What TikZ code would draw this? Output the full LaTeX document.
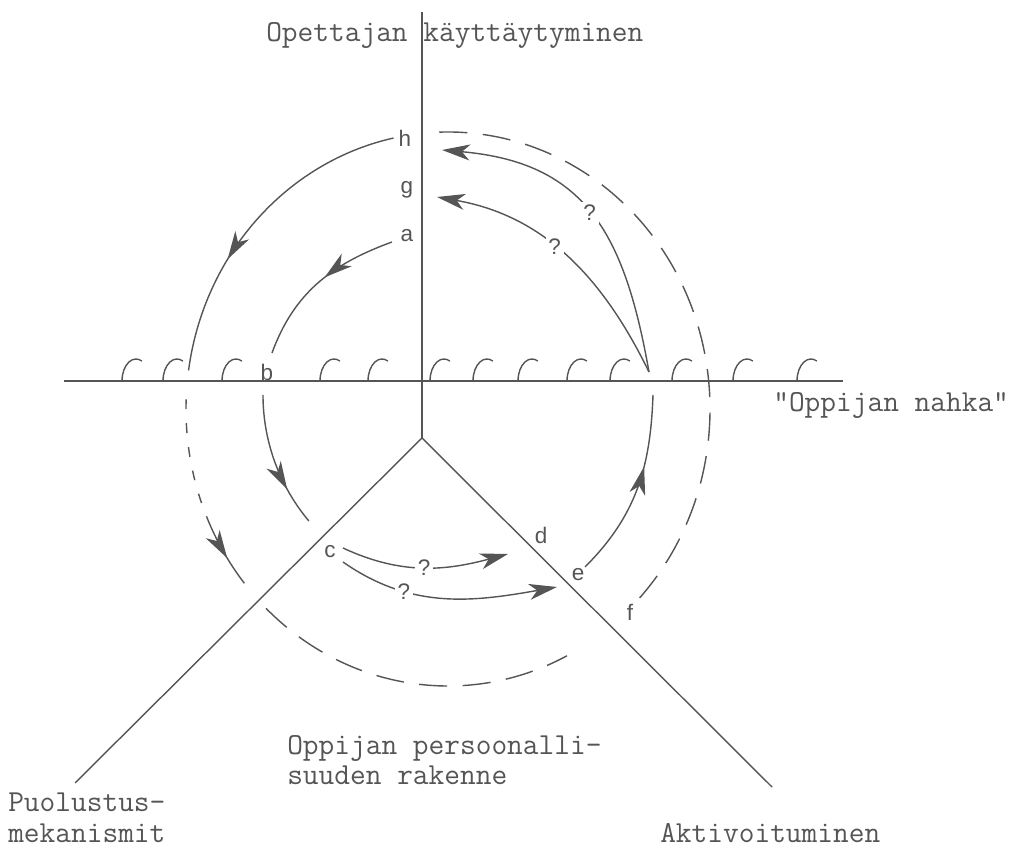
\documentclass[tikz,border=0pt]{standalone}
\usepackage{fontspec}
\setsansfont{Liberation Sans}
\usepackage{xcolor}
\definecolor{inkgray}{RGB}{85,85,85}
\usetikzlibrary{arrows.meta,calc,decorations.markings}

\begin{document}
\begin{tikzpicture}[x=0.25mm,y=0.25mm,
ink/.style={draw=inkgray,line width=1pt},
arrowline/.style={ink,-{Stealth[length=7mm,width=4mm,inset=2mm]}},
midarrow/.style={ink,postaction={decorate},decoration={markings,mark=at position #1 with {\arrow{Stealth[length=7mm,width=4mm,inset=2mm]}}}},
longdash/.style={ink,dash pattern=on 20pt off 11pt},
shortdash/.style={ink,dash pattern=on 7pt off 10pt},
letter/.style={font=\sffamily\fontsize{16}{18}\selectfont,text=inkgray,inner sep=1pt},
query/.style={letter,fill=white,inner sep=2pt},
caption/.style={font=\ttfamily\fontsize{21.7}{21.5}\selectfont,text=inkgray,inner sep=0pt,align=left}]
\useasboundingbox (0,0) rectangle (1013,850);
% axes
\coordinate (O) at (422,412);
\coordinate (top) at (422,838);
\coordinate (skinW) at (64,469);
\coordinate (skinE) at (843,469);
\coordinate (defend) at (75,67);
\coordinate (active) at (772,63);
\draw[ink] (top) -- (O);
\draw[ink] (skinW) -- (skinE);
\draw[ink] (O) -- (defend);
\draw[ink] (O) -- (active);
% skin hooks
\foreach \hx in {122,163,222,320,368,430,473,518,567,610,672,733,797}
  \draw[ink] (\hx,469) arc[start angle=180,end angle=65,x radius=3.5mm,y radius=5.5mm];
% captions
\node[caption,anchor=base west] (teacher) at (266,808) {Opettajan käyttäytyminen};
\node[caption,anchor=base west] (skin) at (773,438) {"Oppijan nahka"};
\node[caption,anchor=north west] (structure) at (287,115) {Oppijan persoonalli-\\suuden rakenne};
\node[caption,anchor=north west] (defence) at (8,57) {Puolustus-\\mekanismit};
\node[caption,anchor=north west] (activation) at (660,27) {Aktivoituminen};
% letters
\node[letter] (h) at (405,712) {h};
\node[letter] (g) at (407,660) {g};
\node[letter] (a) at (407,614) {a};
\node[letter] (b) at (267,478) {b};
\node[letter] (c) at (330,298) {c};
\node[letter] (d) at (541,315) {d};
\node[letter] (e) at (578,275) {e};
\node[letter] (f) at (630,238) {f};
% outer loop
\coordinate (outer) at (448,441);
\coordinate (h1) at ($(outer)+(102:65.5mm and 69.25mm)$);
\coordinate (l1) at ($(outer)+(178:65.5mm and 69.25mm)$);
\coordinate (l2) at ($(outer)+(203:65.5mm and 69.25mm)$);
\coordinate (l3) at ($(outer)+(226:65.5mm and 69.25mm)$);
\coordinate (f1) at ($(outer)+(-43:65.5mm and 69.25mm)$);
\draw[midarrow=0.64] (h1) arc[start angle=102,end angle=172,x radius=65.5mm,y radius=69.25mm];
\draw[shortdash] (l1) arc[start angle=178,end angle=203,x radius=65.5mm,y radius=69.25mm];
\draw[midarrow=0.6] (l2) arc[start angle=203,end angle=219,x radius=65.5mm,y radius=69.25mm];
\draw[longdash] (l3) arc[start angle=226,end angle=297,x radius=65.5mm,y radius=69.25mm];
\draw[longdash] (f1) arc[start angle=-43,end angle=92,x radius=65.5mm,y radius=69.25mm];
% inner loop
\coordinate (inner) at (459,455);
\coordinate (a1) at (392,608);
\coordinate (b1) at (272,497);
\coordinate (b2) at ($(inner)+(180:49mm)$);
\coordinate (c1) at (343,302);
\coordinate (c2) at (343,288);
\coordinate (d1) at (508,296);
\coordinate (e1) at (557,263);
\coordinate (e2) at (585,283);
\coordinate (s1) at (653,455);
\coordinate (s2) at (649,478);
\coordinate (g1) at (437,653);
\coordinate (h2) at (442,700);
\draw[midarrow=0.45] (a1) to[out=200,in=70] (b1);
\draw[midarrow=0.72] (b2) arc[start angle=180,end angle=220,radius=49mm];
\draw[arrowline] (c1) to[out=-25,in=195] node[query,pos=0.5] (q3) {?} (d1);
\draw[arrowline] (c2) to[out=-35,in=190] node[query,pos=0.3] (q4) {?} (e1);
\draw[midarrow=0.62] (e2) to[out=45,in=268] (s1);
\draw[arrowline] (s2) to[out=116,in=-10] node[query,pos=0.55] (q2) {?} (g1);
\draw[arrowline] (s2) to[out=100,in=-5,looseness=1.2] node[query,pos=0.5] (q1) {?} (h2);
\end{tikzpicture}
\end{document}
